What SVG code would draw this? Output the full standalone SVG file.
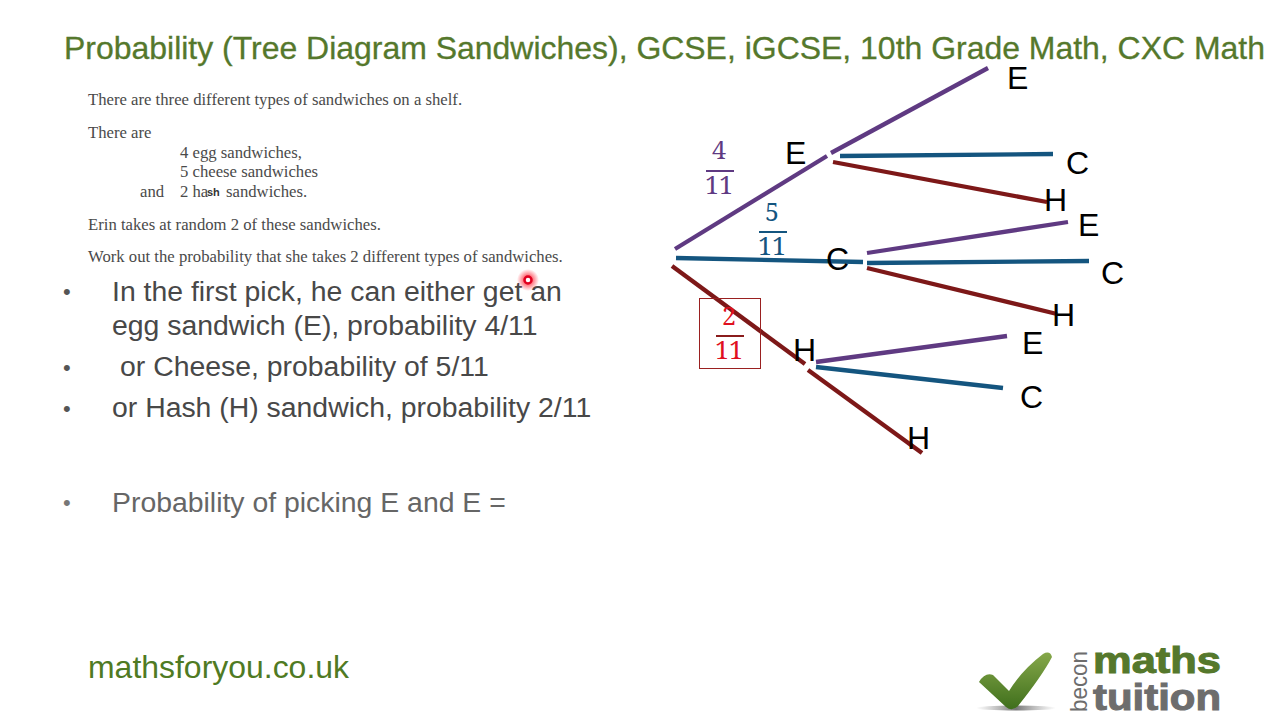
<svg xmlns="http://www.w3.org/2000/svg" width="1280" height="720" viewBox="0 0 1280 720">
<defs>
<radialGradient id="glow"><stop offset="0.3" stop-color="#ff2030" stop-opacity="0.75"/><stop offset="1" stop-color="#ff2030" stop-opacity="0"/></radialGradient>
<linearGradient id="tick" x1="0" y1="0" x2="0" y2="1"><stop offset="0" stop-color="#86a84a"/><stop offset="1" stop-color="#3f6f1c"/></linearGradient>
<linearGradient id="shadow"><stop offset="0" stop-color="#999" stop-opacity="0"/><stop offset="0.5" stop-color="#777"/><stop offset="1" stop-color="#999" stop-opacity="0"/></linearGradient>
</defs>
<style>
text{font-family:"Liberation Sans",Arial,sans-serif}
.s{font-family:"Liberation Serif","Times New Roman",serif;font-size:16.7px;fill:#4a4a4a}
.b{font-size:28.4px;fill:#484848}
.d{font-size:22px;fill:#555}
.n{font-size:32px;fill:#000}
.f{font-family:"Noto Serif","DejaVu Serif","Liberation Serif",serif;font-size:25px;text-anchor:middle}
.l{fill:none;stroke-width:4.3}
.p{stroke:#5f3a82}.t{stroke:#14557f}.r{stroke:#7d1818}
</style>
<rect width="1280" height="720" fill="#fff"/>
<text id="title" x="64" y="59" font-size="31.5" fill="#55782c" stroke="#55782c" stroke-width="0.3" textLength="1201" lengthAdjust="spacingAndGlyphs">Probability (Tree Diagram Sandwiches), GCSE, iGCSE, 10th Grade Math, CXC Math</text>
<g id="question">
<text class="s" x="88" y="105">There are three different types of sandwiches on a shelf.</text>
<text class="s" x="88" y="138">There are</text>
<text class="s" x="180" y="158">4 egg sandwiches,</text>
<text class="s" x="180" y="177">5 cheese sandwiches</text>
<text class="s" x="140" y="197">and</text>
<text class="s" x="180" y="197">2 ha</text><text x="207" y="196" font-size="11" font-weight="bold" fill="#333">sh</text><text class="s" x="226" y="197">sandwiches.</text>
<text class="s" x="88" y="230">Erin takes at random 2 of these sandwiches.</text>
<text class="s" x="88" y="262">Work out the probability that she takes 2 different types of sandwiches.</text>
</g>
<g id="bullets">
<text class="d" x="63" y="299">•</text><text class="b" x="112" y="301">In the first pick, he can either get an</text>
<text class="b" x="112" y="335">egg sandwich (E), probability 4/11</text>
<text class="d" x="63" y="375">•</text><text class="b" x="120" y="376">or Cheese, probability of 5/11</text>
<text class="d" x="63" y="416">•</text><text class="b" x="112" y="417">or Hash (H) sandwich, probability 2/11</text>
<text class="d" x="63" y="510" style="fill:#777">•</text><text class="b" x="112" y="512" style="fill:#666">Probability of picking E and E =</text>
</g>
<g id="pointer"><circle cx="528" cy="280" r="11" fill="url(#glow)"/><circle cx="528" cy="280" r="3.5" fill="#fff" stroke="#e00020" stroke-width="2.5"/></g>
<g id="connectors">
<path class="l p" d="M675 249L827 156"/><path class="l t" d="M676 258L863 262"/><path class="l r" d="M672 266L805 364"/>
<path class="l p" d="M831 153L988 68"/><path class="l t" d="M840 156L1053 154"/><path class="l r" d="M833 162L1047 202"/>
<path class="l p" d="M867 253L1068 222"/><path class="l t" d="M867 263L1089 261"/><path class="l r" d="M867 268L1057 314"/>
<path class="l p" d="M816 362L1007 336"/><path class="l t" d="M816 367L1003 388"/><path class="l r" d="M808 370L922 453"/>
</g>
<g id="n-E1"><text class="n" x="785" y="164">E</text></g>
<g id="n-C1"><text class="n" x="826" y="270">C</text></g>
<g id="n-H1"><text class="n" x="793" y="361">H</text></g>
<g id="n-EE"><text class="n" x="1007" y="89">E</text></g>
<g id="n-EC"><text class="n" x="1066" y="174">C</text></g>
<g id="n-EH"><text class="n" x="1044" y="211">H</text></g>
<g id="n-CE"><text class="n" x="1078" y="236">E</text></g>
<g id="n-CC"><text class="n" x="1101" y="284">C</text></g>
<g id="n-CH"><text class="n" x="1052" y="326">H</text></g>
<g id="n-HE"><text class="n" x="1022" y="354">E</text></g>
<g id="n-HC"><text class="n" x="1020" y="408">C</text></g>
<g id="n-HH"><text class="n" x="907" y="449">H</text></g>
<g id="frac-4-11" fill="#5f3a82"><text class="f" x="719" y="159" fill="#5f3a82">4</text><rect x="706" y="170" width="28" height="2"/><text class="f" x="719" y="194" fill="#5f3a82">11</text></g>
<g id="frac-5-11" fill="#14557f"><text class="f" x="772" y="221" fill="#14557f">5</text><rect x="759" y="231" width="28" height="2"/><text class="f" x="772" y="255" fill="#14557f">11</text></g>
<g id="frac-2-11"><rect x="699.500" y="298.500" width="61" height="70" fill="none" stroke="#9a2020"/><text class="f" x="729" y="325" fill="#e01020">2</text><rect x="716" y="335" width="28" height="2" fill="#8a1c1c"/><text class="f" x="729" y="359" fill="#e01020">11</text></g>
<text id="site" x="88" y="678" font-size="32" fill="#4f7a23" textLength="261" lengthAdjust="spacingAndGlyphs">mathsforyou.co.uk</text>
<g id="logo">
<ellipse cx="1016" cy="708" rx="40" ry="2.500" fill="url(#shadow)"/>
<path d="M979 682Q985 672 993 675L1009 691Q1022 670 1043 654Q1050 650 1052 657Q1042 676 1018 706Q1012 712 1006 707Z" fill="url(#tick)"/>
<text x="1093" y="673" font-size="36" font-weight="bold" fill="#55782c" stroke="#55782c" stroke-width="1" textLength="128" lengthAdjust="spacingAndGlyphs">maths</text>
<text x="1093" y="710" font-size="36" font-weight="bold" fill="#6d6d6d" stroke="#6d6d6d" stroke-width="1" textLength="128" lengthAdjust="spacingAndGlyphs">tuition</text>
<text transform="translate(1087 712) rotate(-90)" font-size="24" fill="#6d6d6d" textLength="61" lengthAdjust="spacingAndGlyphs">becon</text>
</g>
</svg>
